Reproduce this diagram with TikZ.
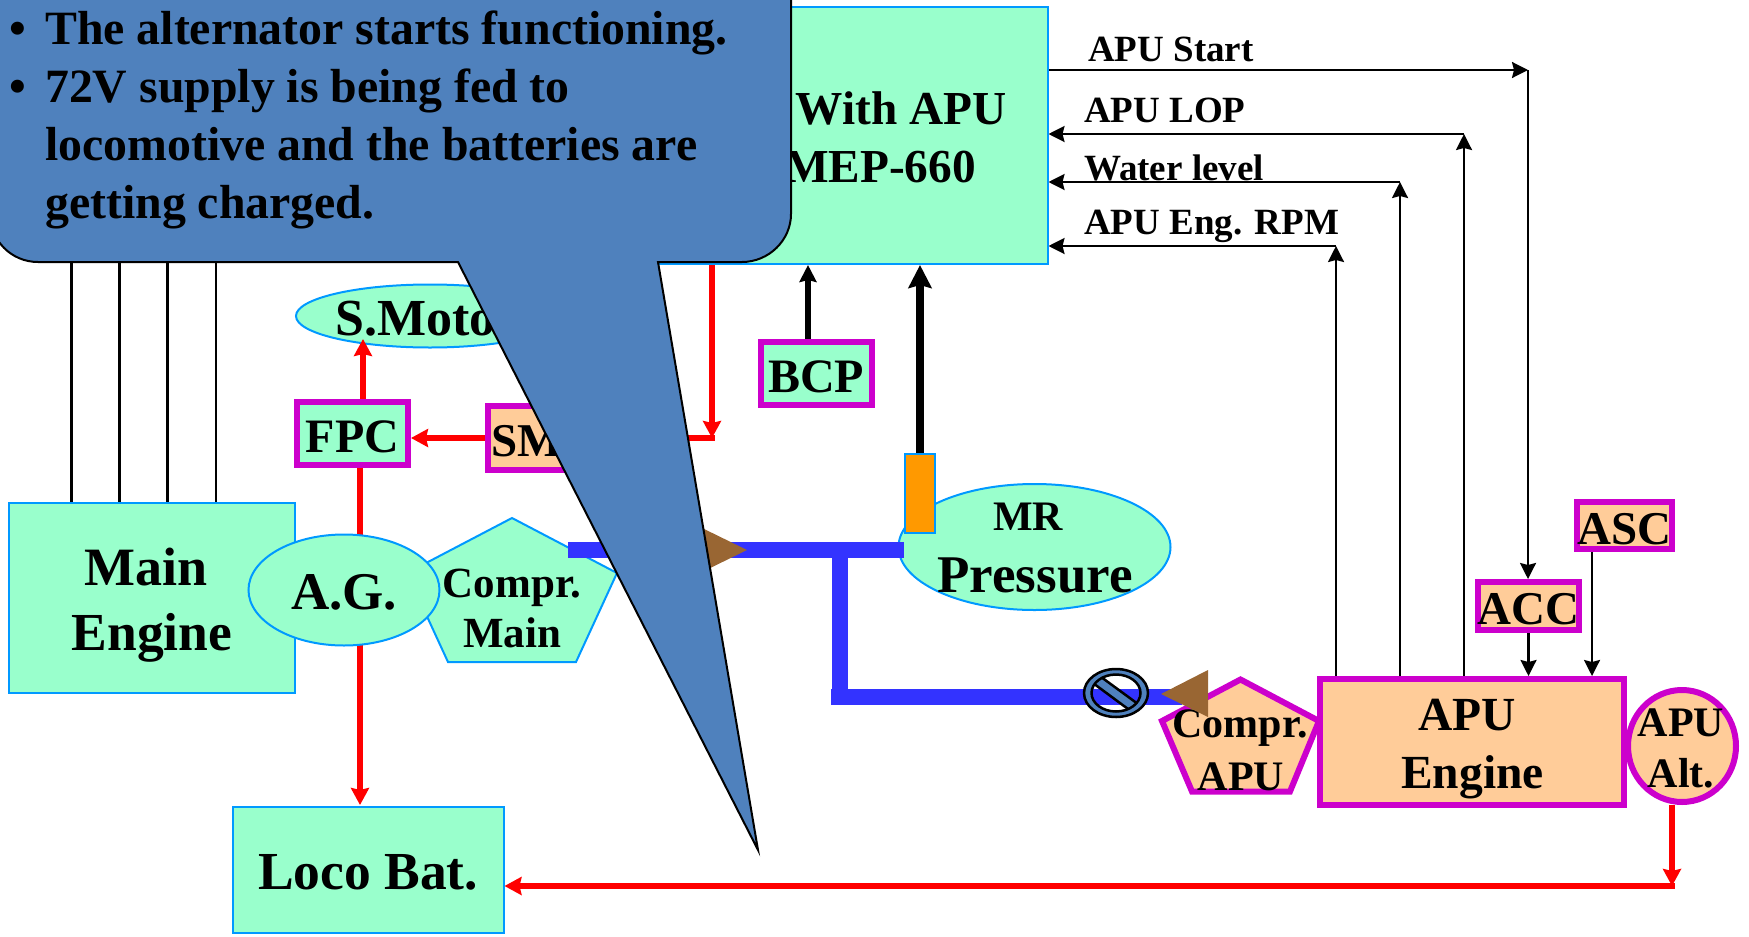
\documentclass[tikz,border=0pt]{standalone}
\usepackage{fontspec}
\setmainfont{Liberation Serif}
\usetikzlibrary{calc, positioning}
\usetikzlibrary{arrows.meta, shapes.geometric}
\definecolor{mintc}{HTML}{99FFCC}
\definecolor{edgec}{HTML}{0099FF}
\definecolor{peachc}{HTML}{FFCC99}
\definecolor{magc}{HTML}{CC00CC}
\definecolor{pipec}{HTML}{3333FF}
\definecolor{brownc}{HTML}{996633}
\definecolor{calloutc}{HTML}{4F81BD}
\definecolor{sensorc}{HTML}{FF9900}
\pgfdeclarelayer{front}
\pgfdeclarelayer{top}
\pgfsetlayers{main,front,top}
\tikzset{
  % Text size and line pitch
  fs/.style 2 args={font=\fontsize{#1}{#2}\selectfont\bfseries, align=center, inner sep=0pt},
  % Main locomotive parts
  mnode/.style={draw=edgec, fill=mintc, line width=2pt, inner sep=0pt},
  % APU parts
  anode/.style={draw=magc, fill=peachc, line width=6pt, inner sep=0pt},
  % Control panels with a purple frame
  pnode/.style={draw=magc, line width=6pt, inner sep=0pt},
  % Baseline below the middle of a box
  low/.style={text height=#1, text depth=0pt},
  % Arrows
  red->/.style={draw=red, line width=5.6pt, -{Stealth[length=17pt, width=18pt, inset=2pt]}},
  red-/.style={draw=red, line width=5.6pt},
  blk->/.style={draw=black, line width=5.6pt, -{Stealth[length=17pt, width=17pt, inset=2pt]}},
  sig-/.style={draw=black, line width=2.3pt},
  sig->/.style={sig-, -{Stealth[length=16pt, width=16pt, inset=2pt]}},
  % Air pipe
  pipe/.style={draw=pipec, line width=16pt},
  % Text callout
  callout/.style={draw=black, fill=calloutc, line width=2pt},
}
\begin{document}
\begin{tikzpicture}[x=1pt, y=-1pt]
    \useasboundingbox (0,0) rectangle (1749,937);

    % Parts that lines run over
    \node[mnode, minimum width=286pt, minimum height=190pt] (main) at (152,598) {};
    \node[mnode, ellipse, minimum width=268pt, minimum height=63pt] (smotor) at (430,316) {};
    \node[fs={52}{52}, anchor=base west] (smotortxt) at (335,335) {S.Motor};
    \node[mnode, ellipse, minimum width=272pt, minimum height=126pt] (mr) at (1034.5,547) {};
    \draw[mnode] (512,518) -- (617,573) -- (576,662) -- (448,662) -- (407,573) -- cycle;
    \node[fs={43}{50}, anchor=base] (comprmain) at (512,647) {Compr.\\Main};
    \node[fs={42}{42}, anchor=base] (mrtxt) at (1028,530) {MR};
    \node[fs={53}{53}, anchor=base] (pressure) at (1035,592) {Pressure};

    \begin{pgfonlayer}{front}
      \node[mnode, minimum width=586pt, minimum height=257pt] (mep) at (754.5,135.5) {};
      \node[mnode, ellipse, minimum width=191pt, minimum height=111pt] (ag) at (344,590) {};
      \node[fs={53}{53}, anchor=base] (agtxt) at (344,609) {A.G.};
      \node[mnode, fs={53.5}{53.5}, low=38pt, minimum width=271pt, minimum height=126pt] (loco) at (368,870) {Loco Bat.};
      \node[pnode, fill=mintc, fs={48}{48}, low=37pt, minimum width=111pt, minimum height=63pt] (fpc) at (352.5,433.5) {FPC};
      \node[pnode, fill=peachc, minimum width=115pt, minimum height=64pt] (sm) at (545.5,438) {};
      \node[fs={47}{47}, anchor=base west] (smtxt) at (491,456) {SM};
      \node[pnode, fill=mintc, fs={48}{48}, low=37pt, minimum width=111pt, minimum height=63pt] (bcp) at (816,373.5) {BCP};
      \node[draw=edgec, fill=sensorc, line width=2pt, minimum width=30pt, minimum height=79pt] (sensor) at (920,493.5) {};
      \node[anode, minimum width=304pt, minimum height=126pt] (apu) at (1472,742) {};
      \node[anode, fs={47}{47}, low=36pt, minimum width=95pt, minimum height=48pt] (acc) at (1528.5,606) {ACC};
      \node[anode, fs={47}{47}, low=37pt, minimum width=95pt, minimum height=47pt] (asc) at (1624.5,525.5) {ASC};
      \node[anode, ellipse, minimum width=108pt, minimum height=112pt] (apualt) at (1682,746) {};
      \draw[anode] (1240.5,679.5) -- (1319,721) -- (1290,791.5) -- (1192,791.5) -- (1162,721) -- cycle;

      % Text of the larger boxes
      \node[fs={54}{65}, anchor=base] (maintxt) at (146,585) {Main};
      \node[fs={53.5}{65}, anchor=base] (enginetxt) at (152,650) {Engine};
      \node[fs={47.3}{47}, anchor=base] (withapu) at (901,124) {With APU};
      \node[fs={47.3}{47}, anchor=base] (mep660) at (880,182) {MEP-660};
      \node[fs={47.5}{47}, anchor=base] (aputxt) at (1467,730) {APU};
      \node[fs={47.5}{47}, anchor=base] (apuengtxt) at (1472.5,788) {Engine};
      \node[fs={42}{42}, anchor=base] (compraputxt) at (1240,737) {Compr.};
      \node[fs={42}{42}, anchor=base] (compraputxtb) at (1241,790) {APU};
      \node[fs={42}{42}, anchor=base] (alttxt) at (1681,736) {APU};
      \node[fs={42}{42}, anchor=base] (alttxtb) at (1681,787) {Alt.};
    \end{pgfonlayer}

    % Wires from the main engine
    \foreach \x/\name in {71.5/a, 119.5/b, 167.5/c, 216/d} {
      \coordinate (up\name) at (\x,250);
      \draw[sig-] (up\name) -- (up\name |- main.north);
    }

    % Red supply lines
    \coordinate (fpcup) at (363,339);
    \coordinate (smj) at (712,438);
    \coordinate (altj) at (1672,886);
    \draw[red->] (fpcup |- fpc.north) -- (fpcup);
    \draw[red->] (sm.west |- smj) -- (fpc.east |- smj);
    \draw[red->] (smj |- mep.south) -- (smj);
    \draw[red-] (sm.east |- smj) -- ([xshift=2.8pt]smj);
    \draw[red->] (360,468) -- (360,805);
    \draw[red->] (altj |- apualt.south) -- (altj);
    \draw[red->] ([xshift=2.8pt]altj) -- (loco.east |- altj);

    % Air pipes
    \coordinate (pipea) at (568,550);
    \coordinate (pipeb) at (840,550);
    \coordinate (pipec) at (840,697);
    \coordinate (piped) at (1182,697);
    \draw[pipe] (pipea) -- (sensor.west |- pipea);
    \draw[pipe] (pipeb) -- (pipec);
    \draw[pipe] ([xshift=-9pt]pipec) -- (piped);

    % Black lines into the APU controller
    \draw[blk->] (808,339) -- (808,265);
    \draw[blk->, line width=7.5pt, -{Stealth[length=23pt, width=23pt, inset=3pt]}] (sensor.north) -- (sensor.north |- mep.south);

    % Signals
    \coordinate (startj) at (1528,70);
    \coordinate (rpmj) at (1336,246);
    \coordinate (waterj) at (1400,182);
    \coordinate (lopj) at (1464,134);
    \draw[sig->] (mep.east |- startj) -- (startj);
    \draw[sig->] (startj) -- (startj |- acc.north);
    \foreach \j in {rpmj, waterj, lopj} {
      \draw[sig->] (\j |- apu.north) -- (\j);
      \draw[sig->] (\j) -- (mep.east |- \j);
    }
    \draw[sig->] (acc.south) -- (acc.south |- apu.north);
    \draw[sig->] (1592,552) -- (1592,676);

    \node[fs={37}{37}, anchor=base west] (start) at (1088,61) {APU Start};
    \node[fs={37}{37}, anchor=base west] (lop) at (1084,122) {APU LOP};
    \node[fs={37}{37}, anchor=base west] (water) at (1084,180) {Water level};
    \node[fs={37}{37}, anchor=base west] (rpm) at (1084,234) {APU Eng. RPM};

    \begin{pgfonlayer}{top}
      % Valve
      \draw[draw=black, fill=calloutc, line width=2.5pt] (1100.7,676.7) -- (1139.3,705) -- (1131.7,711.7) -- (1093.3,683.3) -- cycle;
      \fill[calloutc, draw=black, line width=2.5pt, even odd rule]
        (1116,693) ellipse [x radius=32, y radius=24]
        (1116,693) ellipse [x radius=24.5, y radius=18.5];
      % Check valves
      \fill[brownc] (747,550) -- (700,527) -- (700,573) -- cycle;
      \fill[brownc] (1161,694) -- (1208,670) -- (1208,717) -- cycle;
      % Callout
      \draw[callout] (-10,-40) -- (791,-40) -- (791,214)
        .. controls (791,240) and (769,262) .. (742,262) -- (658,262)
        -- (758,850) -- (458,262) -- (38,262)
        .. controls (11,262) and (-10,240) .. (-10,214) -- cycle;
      \node[fs={47.8}{58}, anchor=base west, align=left] (calloutxt) at (9,44)
        {\begin{tabular}[t]{@{}p{36pt}@{}l@{}}
          •&The alternator starts functioning.\\
          •&72V supply is being fed to\\
          &locomotive and the batteries are\\
          &getting charged.
        \end{tabular}};
    \end{pgfonlayer}
\end{tikzpicture}
\end{document}
